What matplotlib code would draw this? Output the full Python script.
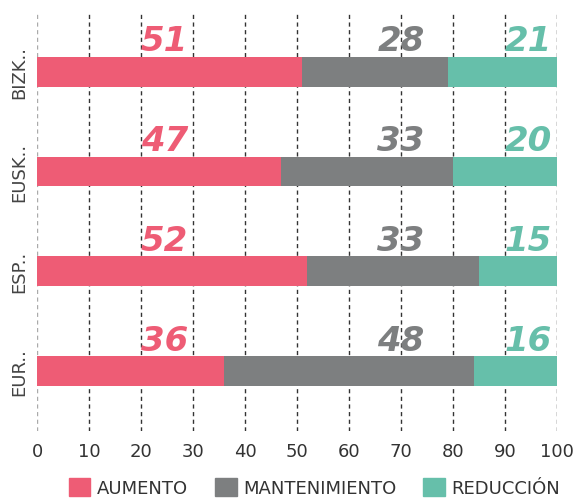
import numpy as np
import matplotlib.pyplot as plt
from matplotlib.patches import Patch

categorias = ['EUR..', 'ESP..', 'EUSK..', 'BIZK..']
aumento = [36, 52, 47, 51]
mantenimiento = [48, 33, 33, 28]
reduccion = [16, 15, 20, 21]
series = ['AUMENTO', 'MANTENIMIENTO', 'REDUCCIÓN']
colores = ['#ee5c75', '#7d7f80', '#66bfaa']
ticks_x = list(range(0, 101, 10))

fig = plt.figure(figsize=(5.79, 5.02), dpi=100)
ax = fig.add_axes([0.064, 0.14, 0.898, 0.834])

y = np.arange(len(categorias))
alto = 0.3

# lineas de la rejilla
for t in ticks_x:
    c = '#aaaaaa' if t == 0 else '#333333'
    ax.axvline(t, color=c, lw=1.0, ls=(0, (3, 2.5)), zorder=0)

izq = np.zeros(len(categorias))
for vals, col in zip([aumento, mantenimiento, reduccion], colores):
    ax.barh(y, vals, left=izq, height=alto, color=col, zorder=2)
    izq = izq + np.array(vals)

# etiquetas de valores encima de cada barra
pos_x = [24.5, 70, 94.5]
for i in range(len(categorias)):
    for vals, col, px in zip([aumento, mantenimiento, reduccion], colores, pos_x):
        ax.text(px, y[i] + 0.31, str(vals[i]), color=col, fontsize=24.5,
                fontweight='bold', fontstyle='italic', ha='center', va='center', zorder=3)

ax.set_xlim(0, 100)
ax.set_ylim(-0.6, 3.6)
ax.set_xticks(ticks_x)
ax.set_xticklabels([str(t) for t in ticks_x], fontsize=13, color='#333333')
ax.set_yticks(y)
ax.set_yticklabels(categorias, rotation=90, va='center', fontsize=13, color='#444444')
ax.tick_params(axis='both', length=0)
ax.tick_params(axis='x', pad=8)
ax.tick_params(axis='y', pad=6)
for s in ax.spines.values():
    s.set_visible(False)

handles = [Patch(color=c, label=s) for c, s in zip(colores, series)]
fig.legend(handles=handles, loc='lower center', bbox_to_anchor=(0.543, -0.025), ncol=3,
           frameon=False, fontsize=13, handlelength=1.2, handleheight=1.2,
           handletextpad=0.35, columnspacing=1.5, labelcolor='#333333')

fig.savefig('out.png', dpi=100)
